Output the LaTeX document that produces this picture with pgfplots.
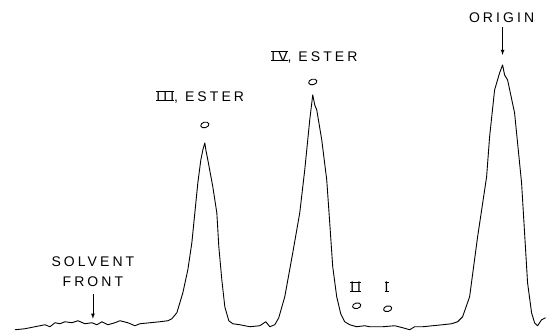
\documentclass[border=0pt]{standalone}
\usepackage{fontspec}
\setmainfont{Liberation Sans}[LetterSpace=22]
\usepackage{pgfplots}
\pgfplotsset{compat=1.18}
\newcommand\rn[1]{\setbox0\hbox{#1}\rlap{\rule[-0.4pt]{\wd0}{1.1pt}}\rlap{\rule[\dimexpr\ht0-0.7pt]{\wd0}{1.1pt}}\box0}
\begin{document}
\begin{tikzpicture}
\begin{axis}[axis line style={draw=none}, ticks=none, scale only axis, width=546pt, height=333pt,
  xmin=0, xmax=546, ymin=0, ymax=333, y dir=reverse, clip=false]
\addplot[black, line width=0.9pt, line join=round] coordinates {
(15,330)(25,329)(35,327)(45,325)(50,327)(55,323)(60,324)(65,322)(72,323)(78,321)(85,324)(92,323)(97,325)(102,322)(108,325)(115,323)(120,321)(128,323)(135,326)(140,324)(150,323)(160,322)(168,321)(172,319)(177,313)(183,293)(188,270)(192,243)(195,213)(198,183)(201,160)(203,150)(205,143)(206,150)(208,160)(213,187)(217,213)(219,247)(222,280)(225,307)(229,321)(233,324)(240,325)(250,327)(260,326)(266,322)(270,327)(275,325)(279,318)(285,297)(293,253)(300,213)(305,170)(310,120)(313,95)(315,105)(317,110)(322,140)(327,180)(330,223)(333,267)(337,297)(341,314)(345,322)(350,325)(357,327)(365,326)(370,327)(383,327)(395,326)(403,328)(410,330)(415,327)(423,327)(433,326)(443,325)(452,324)(458,322)(463,317)(470,297)(478,237)(487,177)(490,137)(495,90)(500,73)(503,65)(505,75)(508,80)(515,113)(518,143)(522,183)(525,233)(528,283)(532,313)(535,323)(538,326)(542,320)(546,318)
};
\node[font=\fontsize{14}{15}\selectfont] at (axis cs:502,18) {ORIGIN};
\draw[-latex, line width=0.8pt] (axis cs:503,27) -- (axis cs:503,55);
\node[font=\fontsize{14}{15}\selectfont, anchor=west] at (axis cs:268,57) {\rn{IV}, ESTER};
\draw[line width=0.9pt, rotate around={15:(axis cs:313,82)}] (axis cs:313,82) ellipse [x radius=4.2pt, y radius=2.8pt];
\node[font=\fontsize{14}{15}\selectfont, anchor=west] at (axis cs:153,97) {\rn{III}, ESTER};
\draw[line width=0.9pt, rotate around={15:(axis cs:205,125)}] (axis cs:205,125) ellipse [x radius=4.2pt, y radius=2.8pt];
\node[font=\fontsize{14}{15}\selectfont] at (axis cs:93,262) {SOLVENT};
\node[font=\fontsize{14}{15}\selectfont] at (axis cs:93,282) {FRONT};
\draw[-latex, line width=0.8pt] (axis cs:93,294) -- (axis cs:93,319);
\node[font=\fontsize{14}{15}\selectfont] at (axis cs:356,287) {\rn{II}};
\node[font=\fontsize{14}{15}\selectfont] at (axis cs:387,287) {\rn{I}};
\draw[line width=0.9pt, rotate around={15:(axis cs:357,306)}] (axis cs:357,306) ellipse [x radius=4.2pt, y radius=2.8pt];
\draw[line width=0.9pt, rotate around={15:(axis cs:388,309)}] (axis cs:388,309) ellipse [x radius=4.2pt, y radius=2.8pt];
\end{axis}
\end{tikzpicture}
\end{document}
